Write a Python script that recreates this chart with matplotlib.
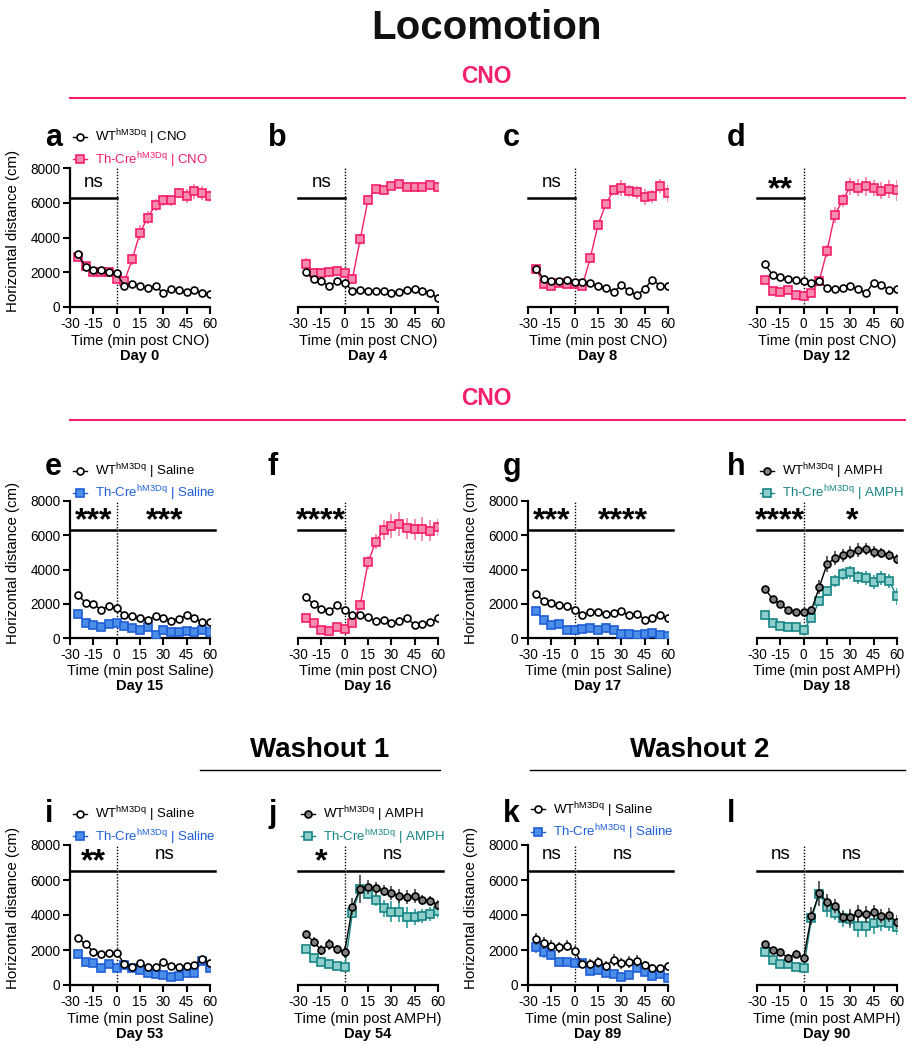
import matplotlib
matplotlib.use("Agg")
import matplotlib.pyplot as plt
from matplotlib.lines import Line2D

plt.rcParams["font.family"] = ["Liberation Sans", "DejaVu Sans"]
plt.rcParams["mathtext.fontset"] = "custom"
plt.rcParams["mathtext.rm"] = "Liberation Sans"
plt.rcParams["mathtext.it"] = "Liberation Sans:italic"
plt.rcParams["mathtext.bf"] = "Liberation Sans:bold"
plt.rcParams["axes.unicode_minus"] = False

FIG_W, FIG_H = 919, 1050

time_min = [-25, -20, -15, -10, -5, 0, 5, 10, 15, 20, 25, 30, 35, 40, 45, 50, 55, 60]
x_ticks = [-30, -15, 0, 15, 30, 45, 60]
x_tick_labels = ["-30", "-15", "0", "15", "30", "45", "60"]
y_ticks = [0, 2000, 4000, 6000, 8000]

# ---- CNO, days 0-12 ----
a_wt = [3050, 2300, 2150, 2150, 2000, 1950, 1200, 1330, 1180, 1080, 1180, 820, 1020, 950, 850, 950, 800, 720]
a_wt_err = [150, 100, 100, 100, 100, 100, 100, 100, 100, 100, 100, 100, 100, 100, 100, 100, 100, 100]
a_tg = [2890, 2350, 2020, 2020, 1990, 1640, 1500, 2740, 4280, 5150, 5880, 6130, 6130, 6550, 6400, 6650, 6550, 6400]
a_tg_err = [200, 150, 150, 150, 150, 200, 150, 300, 450, 350, 350, 300, 300, 300, 400, 450, 400, 350]

b_wt = [2000, 1640, 1470, 1210, 1480, 1410, 925, 960, 945, 925, 925, 790, 890, 1000, 1020, 925, 810, 500]
b_wt_err = [100] * 18
b_tg = [2450, 1970, 1930, 2020, 2080, 1970, 1640, 3890, 6170, 6800, 6750, 6980, 7090, 6900, 6900, 6880, 7000, 6900]
b_tg_err = [350, 250, 250, 300, 300, 250, 200, 300, 250, 200, 200, 200, 200, 250, 250, 200, 200, 250]

c_wt = [2200, 1640, 1500, 1500, 1540, 1450, 1430, 1390, 1210, 1100, 870, 1250, 945, 675, 1060, 1580, 1210, 1210]
c_wt_err = [150, 100, 100, 100, 100, 100, 100, 100, 100, 100, 100, 100, 100, 100, 100, 100, 100, 100]
c_tg = [2200, 1350, 1210, 1390, 1310, 1350, 1230, 2810, 4720, 5920, 6710, 6840, 6670, 6590, 6320, 6360, 6940, 6550]
c_tg_err = [200, 150, 150, 150, 150, 150, 150, 300, 250, 200, 200, 450, 350, 350, 450, 350, 400, 500]

d_wt = [2470, 1850, 1700, 1600, 1580, 1480, 1410, 1480, 1120, 1020, 1080, 1210, 1020, 810, 1410, 1290, 960, 1060]
d_wt_err = [100] * 18
d_tg = [1580, 945, 890, 960, 710, 640, 810, 1500, 3220, 5300, 6130, 6940, 6860, 6940, 6840, 6690, 6800, 6710]
d_tg_err = [150, 100, 100, 100, 100, 100, 100, 100, 350, 450, 400, 500, 500, 550, 450, 500, 500, 600]

# ---- days 15-18 ----
e_wt = [2530, 2050, 1970, 1660, 1860, 1760, 1350, 1280, 1140, 1040, 1280, 1180, 1010, 1120, 1330, 1140, 910, 910]
e_wt_err = [150, 120, 120, 120, 120, 120, 100, 100, 100, 100, 100, 100, 100, 100, 100, 100, 100, 100]
e_tg = [1410, 850, 770, 640, 830, 890, 680, 600, 440, 660, 190, 460, 350, 350, 390, 370, 460, 350]
e_tg_err = [150, 120, 120, 100, 100, 120, 100, 100, 100, 150, 100, 100, 100, 100, 100, 100, 100, 100]

f_wt = [2380, 1990, 1700, 1550, 1900, 1610, 1330, 1320, 1220, 970, 1030, 870, 990, 1160, 770, 790, 910, 1140]
f_wt_err = [100] * 18
f_tg = [1180, 850, 460, 420, 660, 500, 890, 1910, 4410, 5630, 6310, 6540, 6630, 6400, 6340, 6340, 6270, 6460]
f_tg_err = [150, 100, 100, 100, 100, 150, 150, 250, 400, 450, 600, 700, 700, 600, 600, 700, 600, 500]

g_wt = [2590, 2150, 2030, 1900, 1860, 1660, 1370, 1510, 1510, 1430, 1470, 1550, 1330, 1430, 1080, 1180, 1330, 1160]
g_wt_err = [100] * 18
g_tg = [1570, 1040, 750, 790, 440, 440, 540, 560, 460, 600, 460, 230, 210, 190, 210, 270, 170, 120]
g_tg_err = [250, 150, 150, 200, 100, 100, 100, 150, 100, 300, 150, 100, 100, 100, 100, 100, 100, 100]

h_wt = [2880, 2280, 1970, 1640, 1530, 1510, 1640, 2960, 4310, 4660, 4820, 4990, 5150, 5200, 5050, 4950, 4860, 4600]
h_wt_err = [150, 150, 150, 150, 150, 150, 200, 400, 450, 400, 400, 400, 400, 350, 350, 300, 300, 300]
h_tg = [1370, 850, 700, 660, 660, 460, 1180, 2150, 2730, 3350, 3730, 3830, 3540, 3500, 3270, 3500, 3310, 2440]
h_tg_err = [150, 100, 100, 100, 100, 150, 250, 300, 300, 350, 350, 400, 400, 400, 400, 400, 400, 500]

# ---- washout ----
i_wt = [2670, 2340, 1900, 1750, 1810, 1850, 1200, 1010, 1280, 1010, 1010, 1330, 1100, 1050, 1100, 1140, 1490, 1240]
i_wt_err = [150, 150, 150, 100, 100, 150, 150, 150, 150, 150, 150, 150, 100, 100, 150, 150, 150, 150]
i_tg = [1770, 1330, 1240, 990, 1180, 950, 1140, 950, 860, 670, 630, 570, 440, 530, 690, 690, 1370, 990]
i_tg_err = [300, 150, 150, 150, 150, 150, 150, 150, 150, 150, 150, 150, 100, 100, 150, 150, 200, 150]

j_wt = [2900, 2480, 2000, 2320, 2040, 1890, 4480, 5500, 5620, 5520, 5390, 5240, 5100, 5050, 5090, 4860, 4800, 4570]
j_wt_err = [250, 250, 300, 300, 250, 350, 500, 800, 400, 350, 300, 400, 400, 400, 400, 300, 300, 300]
j_tg = [2060, 1520, 1330, 1200, 1090, 1010, 4130, 5490, 5200, 4860, 4380, 4190, 4190, 3870, 3900, 3960, 4060, 4250]
j_tg_err = [200, 150, 150, 200, 150, 200, 300, 300, 300, 350, 500, 600, 600, 600, 450, 400, 400, 400]

k_wt = [2610, 2420, 2250, 2150, 2250, 1940, 1180, 1200, 1300, 1100, 1430, 1240, 1330, 1390, 1140, 990, 950, 1100]
k_wt_err = [350, 350, 300, 300, 300, 300, 200, 300, 300, 250, 350, 300, 350, 350, 250, 200, 200, 200]
k_tg = [2190, 1870, 1730, 1330, 1330, 1280, 1280, 820, 860, 670, 630, 480, 570, 990, 760, 510, 610, 420]
k_tg_err = [350, 300, 300, 200, 200, 200, 200, 200, 200, 200, 200, 150, 150, 250, 200, 150, 150, 150]

l_wt = [2340, 2000, 1870, 1560, 1770, 1560, 3940, 5240, 4760, 4530, 3900, 3870, 4100, 4040, 4150, 3960, 4000, 3580]
l_wt_err = [200, 200, 150, 200, 250, 200, 500, 700, 450, 400, 350, 500, 500, 500, 450, 400, 400, 400]
l_tg = [1870, 1430, 1200, 1200, 1010, 950, 3810, 5200, 4480, 4130, 3810, 3750, 3370, 3370, 3520, 3620, 3560, 3330]
l_tg_err = [200, 150, 150, 150, 200, 200, 300, 300, 600, 400, 500, 500, 600, 600, 600, 550, 500, 450]

PINK = "#F51E6B"
STYLES = {
    "CNO": dict(tg_edge=PINK, tg_face="#F58CAE", tg_err="#F77BA2", wt_face="white", label="CNO"),
    "Saline": dict(tg_edge="#1F5ED6", tg_face="#4A8EE8", tg_err="#3A7BE0", wt_face="white", label="Saline"),
    "AMPH": dict(tg_edge="#178585", tg_face="#8ECFCB", tg_err="#2C9C9C", wt_face="#808080", label="AMPH"),
}

ROW_TOP = [168, 501, 845]
ROW_BOTTOM = [307, 638, 985]
COL_LEFT = [70, 298, 528, 757]
AX_W = 140
SIG_Y = [6250, 6300, 6500]
LETTER_X = [45, 268, 503, 727]
LETTER_BASE = [146, 475, 822]

panels = [
    dict(letter="a", row=0, col=0, drug="CNO", day="Day 0", wt=a_wt, wt_err=a_wt_err, tg=a_tg, tg_err=a_tg_err, sig=("ns", None), yaxis=True, legend=True),
    dict(letter="b", row=0, col=1, drug="CNO", day="Day 4", wt=b_wt, wt_err=b_wt_err, tg=b_tg, tg_err=b_tg_err, sig=("ns", None), yaxis=False, legend=False),
    dict(letter="c", row=0, col=2, drug="CNO", day="Day 8", wt=c_wt, wt_err=c_wt_err, tg=c_tg, tg_err=c_tg_err, sig=("ns", None), yaxis=False, legend=False),
    dict(letter="d", row=0, col=3, drug="CNO", day="Day 12", wt=d_wt, wt_err=d_wt_err, tg=d_tg, tg_err=d_tg_err, sig=("**", None), yaxis=False, legend=False),
    dict(letter="e", row=1, col=0, drug="Saline", day="Day 15", wt=e_wt, wt_err=e_wt_err, tg=e_tg, tg_err=e_tg_err, sig=("***", "***"), yaxis=True, legend=True),
    dict(letter="f", row=1, col=1, drug="CNO", day="Day 16", wt=f_wt, wt_err=f_wt_err, tg=f_tg, tg_err=f_tg_err, sig=("****", None), yaxis=False, legend=False),
    dict(letter="g", row=1, col=2, drug="Saline", day="Day 17", wt=g_wt, wt_err=g_wt_err, tg=g_tg, tg_err=g_tg_err, sig=("***", "****"), yaxis=True, legend=False),
    dict(letter="h", row=1, col=3, drug="AMPH", day="Day 18", wt=h_wt, wt_err=h_wt_err, tg=h_tg, tg_err=h_tg_err, sig=("****", "*"), yaxis=False, legend=True),
    dict(letter="i", row=2, col=0, drug="Saline", day="Day 53", wt=i_wt, wt_err=i_wt_err, tg=i_tg, tg_err=i_tg_err, sig=("**", "ns"), yaxis=True, legend=True),
    dict(letter="j", row=2, col=1, drug="AMPH", day="Day 54", wt=j_wt, wt_err=j_wt_err, tg=j_tg, tg_err=j_tg_err, sig=("*", "ns"), yaxis=False, legend=True),
    dict(letter="k", row=2, col=2, drug="Saline", day="Day 89", wt=k_wt, wt_err=k_wt_err, tg=k_tg, tg_err=k_tg_err, sig=("ns", "ns"), yaxis=True, legend=True),
    dict(letter="l", row=2, col=3, drug="AMPH", day="Day 90", wt=l_wt, wt_err=l_wt_err, tg=l_tg, tg_err=l_tg_err, sig=("ns", "ns"), yaxis=False, legend=False),
]


def fx(px):
    return px / FIG_W


def fy(py):
    return 1 - py / FIG_H


def sig_text(ax, x, y, label):
    if label.startswith("*"):
        ax.text(x, y + 30, label, ha="center", va="baseline", fontsize=23, fontweight="bold", clip_on=False)
    else:
        ax.text(x, y + 680, label, ha="center", va="baseline", fontsize=13.5, clip_on=False)


def draw_panel(fig, p):
    row, col = p["row"], p["col"]
    top, bottom = ROW_TOP[row], ROW_BOTTOM[row]
    left = COL_LEFT[col]
    ax = fig.add_axes([fx(left), fy(bottom), fx(AX_W), (bottom - top) / FIG_H])
    st = STYLES[p["drug"]]

    ax.axvline(0, color="black", lw=1.0, ls=(0, (1, 1.2)), zorder=1)

    ax.errorbar(time_min, p["tg"], yerr=p["tg_err"], color=st["tg_edge"], lw=1.0,
                marker="s", ms=5.2, mfc=st["tg_face"], mec=st["tg_edge"], mew=1.2,
                ecolor=st["tg_err"], elinewidth=1.2, capsize=0, zorder=3)
    ax.errorbar(time_min, p["wt"], yerr=p["wt_err"], color="black", lw=1.0,
                marker="o", ms=5.0, mfc=st["wt_face"], mec="black", mew=1.2,
                ecolor="#444444", elinewidth=1.2, capsize=0, zorder=4)

    ax.set_xlim(-30, 60)
    ax.set_ylim(0, 8000)
    for s in ["top", "right"]:
        ax.spines[s].set_visible(False)
    ax.spines["bottom"].set_linewidth(1.6)
    ax.spines["left"].set_linewidth(1.6)
    ax.set_xticks(x_ticks)
    ax.set_xticklabels(x_tick_labels)
    ax.tick_params(axis="both", direction="out", length=5, width=1.5, labelsize=9.8, pad=2)

    if p["yaxis"]:
        ax.set_yticks(y_ticks)
        ax.set_ylabel("Horizontal distance (cm)", fontsize=10.8)
        ax.yaxis.set_label_coords(-0.36, 0.55)
    else:
        ax.spines["left"].set_visible(False)
        ax.set_yticks([])

    ax.set_xlabel("Time (min post %s)" % st["label"], fontsize=10.5, labelpad=2)

    ax.text(0.5, -0.35, p["day"], transform=ax.transAxes, ha="center",
            va="center", fontsize=10.5, fontweight="bold")

    # significance bars
    sy = SIG_Y[row]
    left_lab, right_lab = p["sig"]
    if right_lab is None:
        ax.plot([-30, 0], [sy, sy], color="black", lw=1.8, clip_on=False, zorder=2)
    else:
        ax.plot([-30, -0.7], [sy, sy], color="black", lw=1.8, clip_on=False, zorder=2)
        ax.plot([1.8, 63], [sy, sy], color="black", lw=1.8, clip_on=False, zorder=2)
        sig_text(ax, 31, sy, right_lab)
    sig_text(ax, -15, sy, left_lab)

    if p["legend"]:
        handles = [
            Line2D([], [], color="black", lw=1.0, marker="o", ms=5.0, mfc=st["wt_face"], mec="black", mew=1.2),
            Line2D([], [], color=st["tg_edge"], lw=1.0, marker="s", ms=5.2, mfc=st["tg_face"], mec=st["tg_edge"], mew=1.2),
        ]
        labels = [
            "WT$^{\\mathrm{hM3Dq}}$ | %s" % st["label"],
            "Th-Cre$^{\\mathrm{hM3Dq}}$ | %s" % st["label"],
        ]
        y_anchor = 1.29 if p["letter"] != "k" else 1.32
        ax.legend(handles, labels, loc="upper left", bbox_to_anchor=(0.02, y_anchor),
                  frameon=False, fontsize=9.5, handlelength=1.1, handletextpad=0.6,
                  labelspacing=0.22, borderpad=0, borderaxespad=0,
                  labelcolor=["black", st["tg_edge"]])

    fig.text(fx(LETTER_X[col]), fy(LETTER_BASE[row]), p["letter"], ha="left", va="baseline",
             fontsize=22, fontweight="bold")
    return ax


fig = plt.figure(figsize=(FIG_W / 100, FIG_H / 100), dpi=100)

fig.text(fx(486), fy(39), "Locomotion", ha="center", va="baseline", fontsize=29, fontweight="bold",
         color="#111111")
for ty, ly in [(83, 98), (405, 420)]:
    fig.text(fx(486), fy(ty), "CNO", ha="center", va="baseline", fontsize=16.5, fontweight="bold", color=PINK)
    fig.add_artist(Line2D([fx(70), fx(905)], [fy(ly), fy(ly)], color=PINK, lw=1.5))
for name, cx, x0, x1 in [("Washout 1", 320, 200, 440), ("Washout 2", 700, 530, 905)]:
    fig.text(fx(cx), fy(757), name, ha="center", va="baseline", fontsize=20, fontweight="bold")
    fig.add_artist(Line2D([fx(x0), fx(x1)], [fy(770), fy(770)], color="black", lw=1.0))

for p in panels:
    draw_panel(fig, p)

fig.savefig("out.png", dpi=100)
